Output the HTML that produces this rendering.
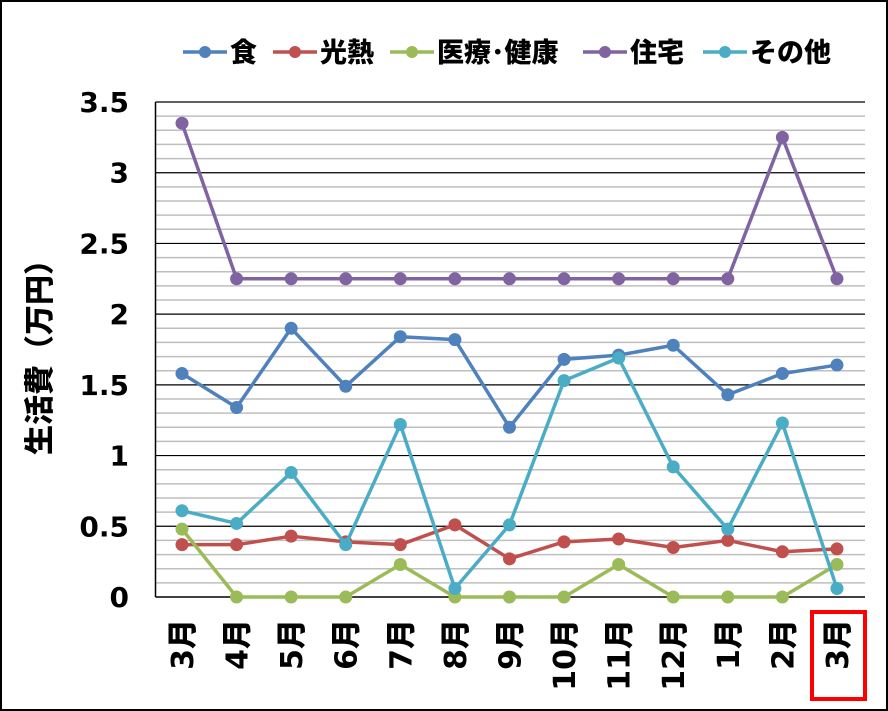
<!DOCTYPE html>
<html><head><meta charset="utf-8"><style>
html,body{margin:0;padding:0;background:#fff}
svg{display:block}
text{font-family:"DejaVu Sans","Noto Sans CJK JP",sans-serif;font-weight:900;fill:#000}
</style></head><body>
<svg id="s" width="888" height="711" xmlns="http://www.w3.org/2000/svg">
<rect x="1" y="1" width="886" height="709" fill="#fff" stroke="#000" stroke-width="2"/>
<g id="g"></g>
</svg>
<script>
const NS="http://www.w3.org/2000/svg",g=document.getElementById('g');
function el(t,a,txt){const e=document.createElementNS(NS,t);for(const k in a)e.setAttribute(k,a[k]);if(txt!==undefined)e.textContent=txt;g.appendChild(e);return e;}
const L=155.5,R=865,T=102,B=597,Y=v=>B-(B-T)*v/3.5,X=i=>182+i*54.58;
for(let i=1;i<35;i++){if(i%5)el('line',{x1:L,x2:R,y1:Y(i/10),y2:Y(i/10),stroke:'#bfbfbf','stroke-width':1.5});}
for(let i=1;i<=7;i++)el('line',{x1:L,x2:R,y1:Y(i/2),y2:Y(i/2),stroke:'#000','stroke-width':1.2});
el('line',{x1:L,x2:L,y1:T,y2:B,stroke:'#000','stroke-width':1.5});
el('line',{x1:L,x2:R,y1:B,y2:B,stroke:'#000','stroke-width':1.5});
['0','0.5','1','1.5','2','2.5','3','3.5'].forEach((t,i)=>el('text',{x:129,y:Y(i/2)+10,'text-anchor':'end','font-size':28},t));
el('text',{x:50,y:350,'font-size':30,'text-anchor':'middle',transform:'rotate(-90 50 350)'},'生活費（万円）');
const m=['3月','4月','5月','6月','7月','8月','9月','10月','11月','12月','1月','2月','3月'];
m.forEach((t,i)=>{const x=X(i)+11,y=619;el('text',{x:x,y:y,'font-size':30,'text-anchor':'end',transform:`rotate(-90 ${x} ${y})`},t);});
el('rect',{x:812,y:612,width:53,height:87,fill:'none',stroke:'#ff0000','stroke-width':4});
const S=[
['#4f81bd',[1.58,1.34,1.90,1.49,1.84,1.82,1.20,1.68,1.71,1.78,1.43,1.58,1.64]],
['#c0504d',[0.37,0.37,0.43,0.39,0.37,0.51,0.27,0.39,0.41,0.35,0.40,0.32,0.34]],
['#9bbb59',[0.48,0,0,0,0.23,0,0,0,0.23,0,0,0,0.23]],
['#8064a2',[3.35,2.25,2.25,2.25,2.25,2.25,2.25,2.25,2.25,2.25,2.25,3.25,2.25]],
['#4bacc6',[0.61,0.52,0.88,0.37,1.22,0.06,0.51,1.53,1.69,0.92,0.48,1.23,0.06]]];
S.forEach(([c,d])=>{el('polyline',{points:d.map((v,i)=>X(i)+','+Y(v)).join(' '),fill:'none',stroke:c,'stroke-width':3.5,'stroke-linejoin':'round'});
d.forEach((v,i)=>el('circle',{cx:X(i),cy:Y(v),r:6.5,fill:c}));});
const LG=[[183,'食'],[273,'光熱'],[390,'医療･健康'],[583,'住宅'],[703,'その他']];
LG.forEach(([x,t],i)=>{const c=S[i][0];el('line',{x1:x,x2:x+44,y1:52,y2:52,stroke:c,'stroke-width':3.5});el('circle',{cx:x+22,cy:52,r:6,fill:c});el('text',{x:x+47,y:62,'font-size':27},t);});
</script>
</body></html>
